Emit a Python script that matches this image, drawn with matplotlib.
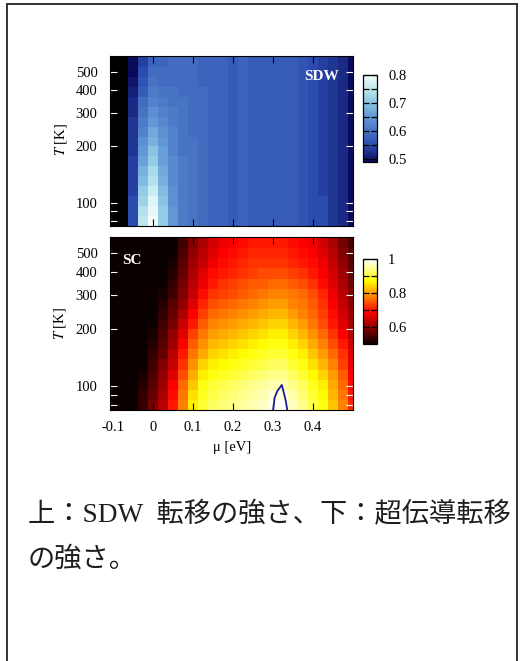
import numpy as np
import matplotlib
matplotlib.use('Agg')
import matplotlib.pyplot as plt
from matplotlib.colors import LinearSegmentedColormap
from matplotlib.patches import Rectangle
from matplotlib.ticker import NullLocator

plt.rcParams['font.family'] = ['Liberation Serif', 'Noto Sans CJK JP']
plt.rcParams['mathtext.fontset'] = 'stix'

nan = np.nan

# chemical potential (eV) and temperature (K) grid centres
mu = [-0.1, -0.075, -0.05, -0.025, 0.0, 0.025, 0.05, 0.075, 0.1, 0.125, 0.15, 0.175,
      0.2, 0.225, 0.25, 0.275, 0.3, 0.325, 0.35, 0.375, 0.4, 0.425, 0.45, 0.475, 0.5]
T = [80, 90, 102, 115, 130, 147, 166, 188, 212, 240, 271, 306, 346, 391, 442, 500, 565]

# SDW strength, rows from low T to high T
sdw = [
    [nan, nan, 0.55, 0.75, 0.80, 0.71, 0.65, 0.61, 0.60, 0.59, 0.58, 0.58, 0.57, 0.58, 0.57, 0.57, 0.57, 0.57, 0.57, 0.56, 0.55, 0.55, 0.53, 0.52, 0.49],
    [nan, nan, 0.55, 0.74, 0.79, 0.71, 0.65, 0.61, 0.60, 0.59, 0.58, 0.58, 0.57, 0.58, 0.57, 0.57, 0.57, 0.57, 0.57, 0.56, 0.55, 0.55, 0.53, 0.52, 0.49],
    [nan, nan, 0.55, 0.72, 0.78, 0.70, 0.64, 0.61, 0.60, 0.59, 0.58, 0.58, 0.57, 0.58, 0.57, 0.57, 0.57, 0.57, 0.57, 0.56, 0.55, 0.55, 0.53, 0.52, 0.49],
    [nan, nan, 0.54, 0.71, 0.76, 0.69, 0.64, 0.61, 0.60, 0.59, 0.58, 0.58, 0.57, 0.58, 0.57, 0.57, 0.57, 0.57, 0.57, 0.56, 0.55, 0.54, 0.53, 0.52, 0.49],
    [nan, nan, 0.54, 0.69, 0.74, 0.68, 0.63, 0.61, 0.60, 0.59, 0.58, 0.58, 0.57, 0.58, 0.57, 0.57, 0.57, 0.57, 0.57, 0.56, 0.55, 0.54, 0.53, 0.52, 0.49],
    [nan, nan, 0.54, 0.68, 0.73, 0.67, 0.63, 0.61, 0.60, 0.59, 0.58, 0.58, 0.57, 0.58, 0.57, 0.57, 0.57, 0.57, 0.57, 0.56, 0.55, 0.54, 0.53, 0.52, 0.49],
    [nan, nan, 0.54, 0.66, 0.71, 0.66, 0.63, 0.61, 0.60, 0.59, 0.58, 0.58, 0.57, 0.58, 0.57, 0.57, 0.57, 0.57, 0.57, 0.56, 0.55, 0.54, 0.53, 0.52, 0.49],
    [nan, nan, 0.53, 0.65, 0.70, 0.66, 0.62, 0.60, 0.60, 0.59, 0.58, 0.58, 0.57, 0.58, 0.57, 0.57, 0.57, 0.57, 0.57, 0.56, 0.55, 0.54, 0.53, 0.52, 0.49],
    [nan, nan, 0.53, 0.64, 0.68, 0.65, 0.62, 0.60, 0.60, 0.59, 0.58, 0.58, 0.57, 0.58, 0.57, 0.57, 0.57, 0.57, 0.57, 0.56, 0.55, 0.54, 0.53, 0.52, 0.49],
    [nan, nan, 0.53, 0.62, 0.67, 0.64, 0.62, 0.60, 0.59, 0.59, 0.58, 0.58, 0.57, 0.58, 0.57, 0.57, 0.57, 0.57, 0.57, 0.56, 0.55, 0.54, 0.53, 0.52, 0.49],
    [nan, nan, 0.53, 0.61, 0.65, 0.63, 0.61, 0.60, 0.59, 0.59, 0.58, 0.58, 0.57, 0.58, 0.57, 0.57, 0.57, 0.57, 0.57, 0.56, 0.55, 0.54, 0.53, 0.52, 0.49],
    [nan, nan, 0.52, 0.60, 0.64, 0.62, 0.61, 0.60, 0.59, 0.59, 0.58, 0.58, 0.57, 0.58, 0.57, 0.57, 0.57, 0.57, 0.57, 0.56, 0.55, 0.54, 0.53, 0.52, 0.49],
    [nan, nan, 0.52, 0.59, 0.62, 0.61, 0.60, 0.60, 0.59, 0.59, 0.58, 0.58, 0.57, 0.58, 0.57, 0.57, 0.57, 0.57, 0.57, 0.56, 0.55, 0.54, 0.53, 0.52, 0.49],
    [nan, nan, 0.51, 0.57, 0.61, 0.60, 0.60, 0.59, 0.59, 0.59, 0.58, 0.58, 0.57, 0.58, 0.57, 0.57, 0.57, 0.57, 0.57, 0.56, 0.55, 0.54, 0.53, 0.52, 0.49],
    [nan, nan, 0.50, 0.56, 0.60, 0.59, 0.59, 0.59, 0.59, 0.58, 0.58, 0.58, 0.57, 0.58, 0.57, 0.57, 0.57, 0.57, 0.57, 0.56, 0.55, 0.54, 0.53, 0.52, 0.49],
    [nan, nan, 0.49, 0.55, 0.59, 0.59, 0.59, 0.59, 0.59, 0.58, 0.58, 0.58, 0.57, 0.58, 0.57, 0.57, 0.57, 0.57, 0.57, 0.56, 0.55, 0.54, 0.53, 0.52, 0.49],
    [nan, nan, 0.49, 0.54, 0.58, 0.58, 0.59, 0.59, 0.59, 0.58, 0.58, 0.58, 0.57, 0.58, 0.57, 0.57, 0.57, 0.57, 0.57, 0.56, 0.55, 0.54, 0.53, 0.52, 0.49],
]

# SC strength, rows from low T to high T
sc = [
    [0.42, 0.45, 0.49, 0.53, 0.58, 0.63, 0.70, 0.78, 0.86, 0.90, 0.92, 0.93, 0.94, 0.95, 0.96, 0.97, 0.99, 1.00, 0.97, 0.94, 0.91, 0.88, 0.83, 0.78, 0.71],
    [0.42, 0.45, 0.49, 0.53, 0.57, 0.62, 0.69, 0.77, 0.85, 0.89, 0.91, 0.92, 0.93, 0.94, 0.95, 0.96, 0.98, 0.98, 0.96, 0.93, 0.90, 0.87, 0.82, 0.77, 0.70],
    [0.41, 0.44, 0.48, 0.52, 0.56, 0.61, 0.68, 0.76, 0.83, 0.88, 0.90, 0.91, 0.92, 0.93, 0.94, 0.95, 0.96, 0.96, 0.94, 0.92, 0.89, 0.86, 0.81, 0.76, 0.69],
    [0.41, 0.44, 0.47, 0.51, 0.55, 0.60, 0.66, 0.74, 0.81, 0.86, 0.88, 0.89, 0.90, 0.91, 0.92, 0.93, 0.94, 0.94, 0.92, 0.90, 0.87, 0.84, 0.80, 0.75, 0.68],
    [0.40, 0.43, 0.46, 0.50, 0.54, 0.59, 0.64, 0.72, 0.79, 0.84, 0.86, 0.87, 0.88, 0.89, 0.90, 0.91, 0.92, 0.92, 0.90, 0.88, 0.85, 0.82, 0.78, 0.73, 0.67],
    [0.40, 0.43, 0.46, 0.49, 0.53, 0.57, 0.63, 0.70, 0.77, 0.81, 0.84, 0.85, 0.86, 0.87, 0.88, 0.89, 0.90, 0.90, 0.88, 0.86, 0.83, 0.80, 0.76, 0.72, 0.66],
    [0.39, 0.42, 0.45, 0.48, 0.52, 0.56, 0.61, 0.68, 0.75, 0.79, 0.82, 0.83, 0.84, 0.85, 0.86, 0.87, 0.88, 0.88, 0.86, 0.84, 0.81, 0.78, 0.74, 0.70, 0.65],
    [0.39, 0.42, 0.45, 0.48, 0.51, 0.55, 0.60, 0.66, 0.73, 0.77, 0.80, 0.81, 0.82, 0.83, 0.84, 0.85, 0.86, 0.86, 0.84, 0.82, 0.79, 0.76, 0.72, 0.68, 0.63],
    [0.38, 0.41, 0.44, 0.47, 0.50, 0.54, 0.58, 0.64, 0.70, 0.75, 0.78, 0.79, 0.80, 0.81, 0.82, 0.83, 0.84, 0.84, 0.82, 0.80, 0.77, 0.74, 0.70, 0.66, 0.62],
    [0.38, 0.41, 0.44, 0.47, 0.50, 0.53, 0.57, 0.62, 0.68, 0.73, 0.76, 0.77, 0.78, 0.79, 0.80, 0.81, 0.82, 0.82, 0.80, 0.78, 0.76, 0.73, 0.69, 0.65, 0.61],
    [0.37, 0.40, 0.43, 0.46, 0.49, 0.52, 0.56, 0.60, 0.66, 0.71, 0.74, 0.75, 0.76, 0.77, 0.78, 0.79, 0.80, 0.80, 0.78, 0.77, 0.75, 0.72, 0.68, 0.64, 0.60],
    [0.37, 0.40, 0.43, 0.46, 0.48, 0.51, 0.54, 0.59, 0.64, 0.69, 0.72, 0.73, 0.74, 0.75, 0.76, 0.77, 0.78, 0.78, 0.77, 0.76, 0.74, 0.71, 0.67, 0.63, 0.59],
    [0.36, 0.39, 0.42, 0.45, 0.48, 0.50, 0.53, 0.58, 0.63, 0.67, 0.70, 0.72, 0.73, 0.74, 0.75, 0.75, 0.76, 0.76, 0.75, 0.74, 0.72, 0.69, 0.66, 0.62, 0.58],
    [0.36, 0.39, 0.42, 0.45, 0.47, 0.49, 0.52, 0.57, 0.62, 0.66, 0.69, 0.70, 0.71, 0.72, 0.73, 0.74, 0.74, 0.74, 0.73, 0.72, 0.70, 0.68, 0.65, 0.61, 0.57],
    [0.35, 0.38, 0.41, 0.44, 0.46, 0.48, 0.51, 0.56, 0.61, 0.64, 0.67, 0.69, 0.70, 0.71, 0.72, 0.72, 0.72, 0.72, 0.71, 0.70, 0.69, 0.67, 0.64, 0.60, 0.56],
    [0.35, 0.38, 0.41, 0.44, 0.46, 0.48, 0.50, 0.55, 0.60, 0.63, 0.66, 0.68, 0.69, 0.70, 0.71, 0.71, 0.71, 0.71, 0.70, 0.69, 0.68, 0.66, 0.63, 0.59, 0.56],
    [0.34, 0.37, 0.40, 0.43, 0.45, 0.47, 0.49, 0.54, 0.59, 0.62, 0.65, 0.67, 0.68, 0.69, 0.70, 0.70, 0.70, 0.70, 0.69, 0.68, 0.67, 0.65, 0.62, 0.58, 0.55],
]

# blue contour line in the SC panel
contour_mu = [0.300, 0.304, 0.311, 0.322, 0.327, 0.332, 0.336]
contour_T = [74, 87, 94.5, 101.5, 92.6, 83.6, 74]

t_ticks = [80, 90, 100, 200, 300, 400, 500]
t_labels = ['', '', '100', '200', '300', '400', '500']
mu_ticks = [-0.1, 0, 0.1, 0.2, 0.3, 0.4]
mu_labels = ['-0.1', '0', '0.1', '0.2', '0.3', '0.4']

caption = ['上：SDW  転移の強さ、下：超伝導転移', 'の強さ。']

# colour maps
sdw_pos = [0.0, 0.19, 0.35, 0.52, 0.68, 0.84, 1.0]   # 0.49 ... 0.8
sdw_colors = ['#0a0a5a', '#2b4aae', '#4873c4', '#6198d6', '#8ac4e4', '#bee8ee', '#f4fbfb']
sdw_cmap = LinearSegmentedColormap.from_list('sdw', list(zip(sdw_pos, sdw_colors)))
sdw_cmap.set_bad('black')
sc_cmap = plt.get_cmap('hot').copy()

W, H = 523, 661
fig = plt.figure(figsize=(W / 100, H / 100), dpi=100)


def box(l, t, r, b):
    return [l / W, 1 - b / H, (r - l) / W, (b - t) / H]


mu_c = np.array(mu)
mu_e = np.r_[mu_c[0] - 0.0125, (mu_c[:-1] + mu_c[1:]) / 2, mu_c[-1] + 0.0125]
T_c = np.array(T, dtype=float)
mid = np.sqrt(T_c[:-1] * T_c[1:])
T_e = np.r_[T_c[0] ** 2 / mid[0], mid, T_c[-1] ** 2 / mid[-1]]

fs = 10.5


def panel(rect, data, cmap, vmin, vmax, show_x):
    ax = fig.add_axes(rect)
    m = ax.pcolormesh(mu_e, T_e, np.ma.masked_invalid(np.array(data)),
                      cmap=cmap, vmin=vmin, vmax=vmax, shading='flat')
    ax.set_facecolor('black')
    ax.set_yscale('log')
    ax.set_xlim(-0.1075, 0.5)
    ax.set_ylim(75, 608)
    ax.set_yticks(t_ticks)
    ax.set_yticklabels(t_labels)
    ax.yaxis.set_minor_locator(NullLocator())
    ax.set_xticks(mu_ticks)
    ax.set_xticklabels(mu_labels if show_x else [])
    ax.tick_params(axis='y', direction='in', left=True, right=True, length=5,
                   width=0.8, color='white', labelsize=fs, pad=9)
    ax.tick_params(axis='x', direction='in', top=True, bottom=True, length=5,
                   width=0.8, color='black', labelsize=fs, pad=8)
    for s in ax.spines.values():
        s.set_linewidth(0.8)
    return ax, m


def cbar(rect, mappable, ticks, labels, minor):
    cax = fig.add_axes(rect)
    cb = fig.colorbar(mappable, cax=cax)
    cb.outline.set_linewidth(0.9)
    cb.set_ticks(ticks)
    cb.set_ticklabels(labels)
    cax.set_yticks(minor, minor=True)
    cax.tick_params(which='both', direction='in', left=True, right=True, length=4,
                    width=0.9, color='black', labelsize=fs, pad=8)
    return cb


ax1, m1 = panel(box(110, 56, 353, 226), sdw, sdw_cmap, 0.49, 0.8, False)
ax1.text(0.872, 0.882, 'SDW', transform=ax1.transAxes, color='white',
         fontsize=11, fontweight='bold', ha='center', va='center')
cbar(box(363, 75, 377, 162), m1, [0.5, 0.6, 0.7, 0.8], ['0.5', '0.6', '0.7', '0.8'],
     [0.55, 0.65, 0.75])

ax2, m2 = panel(box(110, 237, 353, 410), sc, sc_cmap, 0.5, 1.0, True)
ax2.plot(contour_mu, contour_T, color='#1a1aa0', lw=1.3)
ax2.text(0.09, 0.867, 'SC', transform=ax2.transAxes, color='white',
         fontsize=11, fontweight='bold', ha='center', va='center')
cbar(box(363, 259, 377, 344), m2, [0.6, 0.8, 1.0], ['0.6', '0.8', '1'],
     [0.7, 0.9])

fig.text(61 / W, 1 - 140 / H, '$T$ [K]', rotation=90, ha='center', va='center', fontsize=fs)
fig.text(60 / W, 1 - 324 / H, '$T$ [K]', rotation=90, ha='center', va='center', fontsize=fs)
fig.text(232 / W, 1 - 447 / H, 'μ [eV]', ha='center', va='center', fontsize=fs)

# caption below the plot
for i, line in enumerate(caption):
    fig.text(28 / W, 1 - (515 + 45 * i) / H, line, ha='left', va='center',
             fontsize=19.6, color='#1e1e1e',
             family=['Liberation Serif', 'Noto Sans CJK JP'])

# frame around the figure
fig.patches.append(Rectangle((7 / W, -0.05), 510 / W, 1.05 - 4 / H,
                             transform=fig.transFigure, fill=False,
                             edgecolor='#333333', lw=1.4))

fig.savefig('out.png', dpi=100)
